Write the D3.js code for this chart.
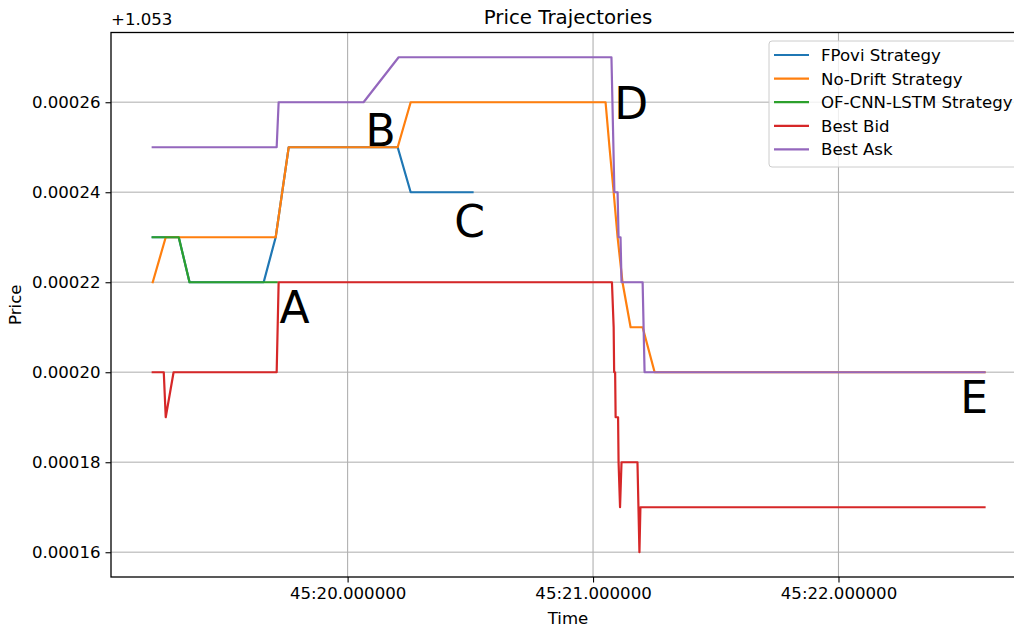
<!DOCTYPE html>
<html>
<head>
<meta charset="utf-8">
<script src="https://cdn.jsdelivr.net/npm/d3@7"></script>
<style>
  html, body { margin: 0; padding: 0; background: #fff; }
  svg { display: block; font-family: "DejaVu Sans", sans-serif; }
</style>
</head>
<body>
<svg id="chart" width="1014" height="629"></svg>
<script>
// Price offset shown above the y axis; tick labels are relative to it.
const priceOffset = 1.053;

// Times are seconds past 12:45:00; prices are absolute quotes.
const fpoviTime  = [19.206, 19.312, 19.356, 19.658, 19.707, 19.760, 20.204, 20.257, 20.509];
const fpoviPrice = [1.05323, 1.05323, 1.05322, 1.05322, 1.05323, 1.05325, 1.05325, 1.05324, 1.05324];

const noDriftTime  = [19.206, 19.259, 19.707, 19.760, 20.204, 20.257, 21.051, 21.067, 21.084, 21.100, 21.120, 21.153, 21.202, 21.251, 22.595];
const noDriftPrice = [1.05322, 1.05323, 1.05323, 1.05325, 1.05325, 1.05326, 1.05326, 1.05325, 1.05324, 1.05323, 1.05322, 1.05321, 1.05321, 1.05320, 1.05320];

const ofCnnTime  = [19.206, 19.312, 19.356, 19.711];
const ofCnnPrice = [1.05323, 1.05323, 1.05322, 1.05322];

const bidTime  = [19.206, 19.251, 19.259, 19.291, 19.711, 19.715, 19.719, 21.077, 21.084, 21.086, 21.090, 21.092, 21.102, 21.104, 21.110, 21.116, 21.181, 21.189, 21.193, 22.595];
const bidPrice = [1.05320, 1.05320, 1.05319, 1.05320, 1.05320, 1.05321, 1.05322, 1.05322, 1.05321, 1.05320, 1.05320, 1.05319, 1.05319, 1.05318, 1.05317, 1.05318, 1.05318, 1.05316, 1.05317, 1.05317];

const askTime  = [19.206, 19.711, 19.719, 20.065, 20.208, 21.075, 21.087, 21.100, 21.104, 21.112, 21.116, 21.202, 21.210, 22.595];
const askPrice = [1.05325, 1.05325, 1.05326, 1.05326, 1.05327, 1.05327, 1.05324, 1.05324, 1.05323, 1.05323, 1.05322, 1.05322, 1.05320, 1.05320];

const seriesNames  = ["FPovi Strategy", "No-Drift Strategy", "OF-CNN-LSTM Strategy", "Best Bid", "Best Ask"];
const seriesColors = ["#1f77b4", "#ff7f0e", "#2ca02c", "#d62728", "#9467bd"];

const yTickValues = [0.00016, 0.00018, 0.00020, 0.00022, 0.00024, 0.00026];
const xTickSeconds = [20, 21, 22];

// Event markers placed on the chart.
const markerLabels = ["A", "B", "C", "D", "E"];
const markerTime   = [19.723, 20.073, 20.434, 21.086, 22.496];
const markerPrice  = [1.053211, 1.0532503, 1.05323, 1.0532563, 1.0531909];

const baseDate = new Date(2024, 0, 1, 12, 45, 0, 0);
const toDate = s => new Date(baseDate.getTime() + Math.round(s * 1000));

const series = [
  [fpoviTime, fpoviPrice],
  [noDriftTime, noDriftPrice],
  [ofCnnTime, ofCnnPrice],
  [bidTime, bidPrice],
  [askTime, askPrice]
].map(([t, p], i) => ({
  name: seriesNames[i],
  color: seriesColors[i],
  points: t.map((s, j) => ({ date: toDate(s), price: p[j] }))
}));

// Axes area (right edge runs past the visible canvas)
const plot = { left: 111, right: 1026, top: 32.5, bottom: 577 };

const allDates = series.flatMap(s => s.points.map(d => d.date.getTime()));
const allPrices = series.flatMap(s => s.points.map(d => d.price));
const tMin = d3.min(allDates), tMax = d3.max(allDates);
const pMin = d3.min(allPrices), pMax = d3.max(allPrices);
const tPad = (tMax - tMin) * 0.05, pPad = (pMax - pMin) * 0.05;

const x = d3.scaleTime()
  .domain([new Date(tMin - tPad), new Date(tMax + tPad)])
  .range([plot.left, plot.right]);
const y = d3.scaleLinear()
  .domain([pMin - pPad, pMax + pPad])
  .range([plot.bottom, plot.top]);

const svg = d3.select("#chart");

svg.append("defs").append("clipPath").attr("id", "plotClip")
  .append("rect")
  .attr("x", plot.left).attr("y", plot.top)
  .attr("width", plot.right - plot.left).attr("height", plot.bottom - plot.top);

// Grid lines
const grid = svg.append("g");
grid.selectAll("line.hgrid").data(yTickValues).join("line")
  .attr("class", "hgrid")
  .attr("x1", plot.left).attr("x2", plot.right)
  .attr("y1", d => y(priceOffset + d)).attr("y2", d => y(priceOffset + d))
  .attr("stroke", "#c8c8c8").attr("stroke-width", 1.6);
grid.selectAll("line.vgrid").data(xTickSeconds).join("line")
  .attr("class", "vgrid")
  .attr("x1", d => x(toDate(d))).attr("x2", d => x(toDate(d)))
  .attr("y1", plot.top).attr("y2", plot.bottom)
  .attr("stroke", "#b0b0b0").attr("stroke-width", 1.1);

// Series lines
const line = d3.line().x(d => x(d.date)).y(d => y(d.price));
svg.append("g").attr("clip-path", "url(#plotClip)")
  .selectAll("path").data(series).join("path")
  .attr("d", d => line(d.points))
  .attr("fill", "none")
  .attr("stroke", d => d.color)
  .attr("stroke-width", 2.2)
  .attr("stroke-linejoin", "round")
  .attr("stroke-linecap", "square");

// Axes
const yAxis = d3.axisLeft(y)
  .tickValues(yTickValues.map(v => priceOffset + v))
  .tickFormat(v => (v - priceOffset).toFixed(5))
  .tickSize(5.5).tickPadding(5);
const xAxis = d3.axisBottom(x)
  .tickValues(xTickSeconds.map(toDate))
  .tickFormat(d3.timeFormat("%M:%S.%f"))
  .tickSize(5.5).tickPadding(5);

const gy = svg.append("g").attr("transform", `translate(${plot.left},0)`).call(yAxis);
const gx = svg.append("g").attr("transform", `translate(0,${plot.bottom})`).call(xAxis);
[gx, gy].forEach(g => {
  g.select(".domain").remove();
  g.selectAll(".tick line").attr("stroke", "#000").attr("stroke-width", 1.1);
  g.selectAll(".tick text").attr("fill", "#000")
    .style("font-family", "'DejaVu Sans', sans-serif").style("font-size", "16.6px");
});

// Spines
svg.append("rect")
  .attr("x", plot.left).attr("y", plot.top)
  .attr("width", plot.right - plot.left).attr("height", plot.bottom - plot.top)
  .attr("fill", "none").attr("stroke", "#000").attr("stroke-width", 1.3);

// Offset text, title, axis labels
svg.append("text").attr("x", plot.left).attr("y", plot.top - 8)
  .style("font-size", "16.6px").text("+" + priceOffset.toFixed(3));
svg.append("text").attr("x", 568).attr("y", 23.5).attr("text-anchor", "middle")
  .style("font-size", "19.8px").text("Price Trajectories");
svg.append("text").attr("x", 568).attr("y", 624).attr("text-anchor", "middle")
  .style("font-size", "16.6px").text("Time");
svg.append("text").attr("transform", `translate(21,${(plot.top + plot.bottom) / 2}) rotate(-90)`)
  .attr("text-anchor", "middle")
  .style("font-size", "16.6px").text("Price");

// Event letters
svg.append("g").selectAll("text").data(markerLabels).join("text")
  .attr("x", (d, i) => x(toDate(markerTime[i])))
  .attr("y", (d, i) => y(markerPrice[i]))
  .style("font-size", "44px")
  .text(d => d);

// Legend
const legend = svg.append("g");
const lx = 769, ly = 41, rowH = 23.6;
legend.append("rect")
  .attr("x", lx).attr("y", ly).attr("width", 250).attr("height", 126)
  .attr("rx", 3).attr("fill", "#fff").attr("fill-opacity", 0.8)
  .attr("stroke", "#cccccc").attr("stroke-width", 1);
const rows = legend.selectAll("g.row").data(series).join("g")
  .attr("transform", (d, i) => `translate(0,${ly + 14 + i * rowH})`);
rows.append("line")
  .attr("x1", lx + 5).attr("x2", lx + 40).attr("y1", 0).attr("y2", 0)
  .attr("stroke", d => d.color).attr("stroke-width", 2.2);
rows.append("text")
  .attr("x", lx + 52).attr("y", 6)
  .style("font-size", "16.6px")
  .text(d => d.name);
</script>
</body>
</html>
